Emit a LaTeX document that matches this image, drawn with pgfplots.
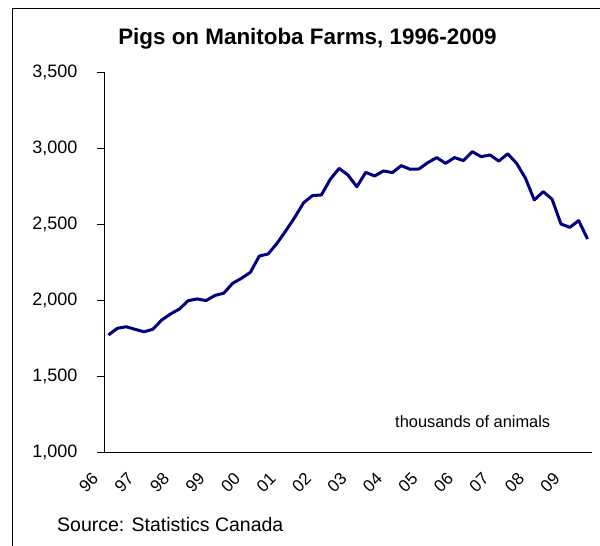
\documentclass[border=0pt]{standalone}
\usepackage{pgfplots}
\pgfplotsset{compat=1.18}
\usepackage{fontspec}
\setmainfont{Liberation Sans}
\definecolor{navy}{RGB}{0,0,128}
\begin{document}
\begin{tikzpicture}[x=1pt,y=1pt]
\path[use as bounding box] (0,0) rectangle (600,546);
\draw[line width=1pt] (12.5,-10) -- (12.5,537) -- (620,537);
\begin{axis}[
  at={(104pt,94pt)}, anchor=south west,
  scale only axis, width=488pt, height=380pt,
  xmin=-0.5, xmax=54.5, ymin=1000, ymax=3500,
  axis x line=bottom, axis y line=left,
  axis line style={-, line width=0.9pt, black},
  xtick={0,4,...,52},
  xticklabels={96,97,98,99,00,01,02,03,04,05,06,07,08,09},
  xtick style={draw=none},
  ytick={1000,1500,...,3500},
  ytick style={line width=0.9pt, black},
  tick align=outside, major tick length=7pt,
  /pgf/number format/assume math mode=true,
  /pgf/number format/1000 sep={,},
  yticklabel style={font=\fontsize{18}{20}\selectfont, anchor=east, xshift=-16pt},
  xticklabel style={font=\fontsize{17}{19}\selectfont, inner sep=0pt, xshift=-13pt, yshift=-17pt, rotate=45, anchor=east},
  clip=false,
]
\addplot[navy, line width=3pt, line join=round] coordinates {
(0,1770) (1,1814) (2,1824) (3,1807) (4,1791) (5,1807) (6,1868) (7,1908)
(8,1941) (9,1996) (10,2007) (11,1996) (12,2030) (13,2045) (14,2110) (15,2143)
(16,2182) (17,2289) (18,2303) (19,2373) (20,2456) (21,2544) (22,2640) (23,2687)
(24,2691) (25,2794) (26,2866) (27,2822) (28,2745) (29,2840) (30,2816) (31,2849)
(32,2838) (33,2884) (34,2860) (35,2862) (36,2904) (37,2937) (38,2899) (39,2937)
(40,2917) (41,2976) (42,2943) (43,2954) (44,2914) (45,2962) (46,2899) (47,2801)
(48,2658) (49,2713) (50,2663) (51,2500) (52,2478) (53,2522) (54,2401)
};
\end{axis}
\node[anchor=base, font=\bfseries\fontsize{22.4}{26}\selectfont] at (307.5,501) {Pigs on Manitoba Farms, 1996-2009};
\node[anchor=base west, inner sep=0pt, font=\fontsize{19.5}{22}\selectfont] at (57,14) {Source: Statistics Canada};
\node[anchor=base west, inner sep=0pt, font=\fontsize{16.4}{19}\selectfont] at (395,118) {thousands of animals};
\end{tikzpicture}
\end{document}
